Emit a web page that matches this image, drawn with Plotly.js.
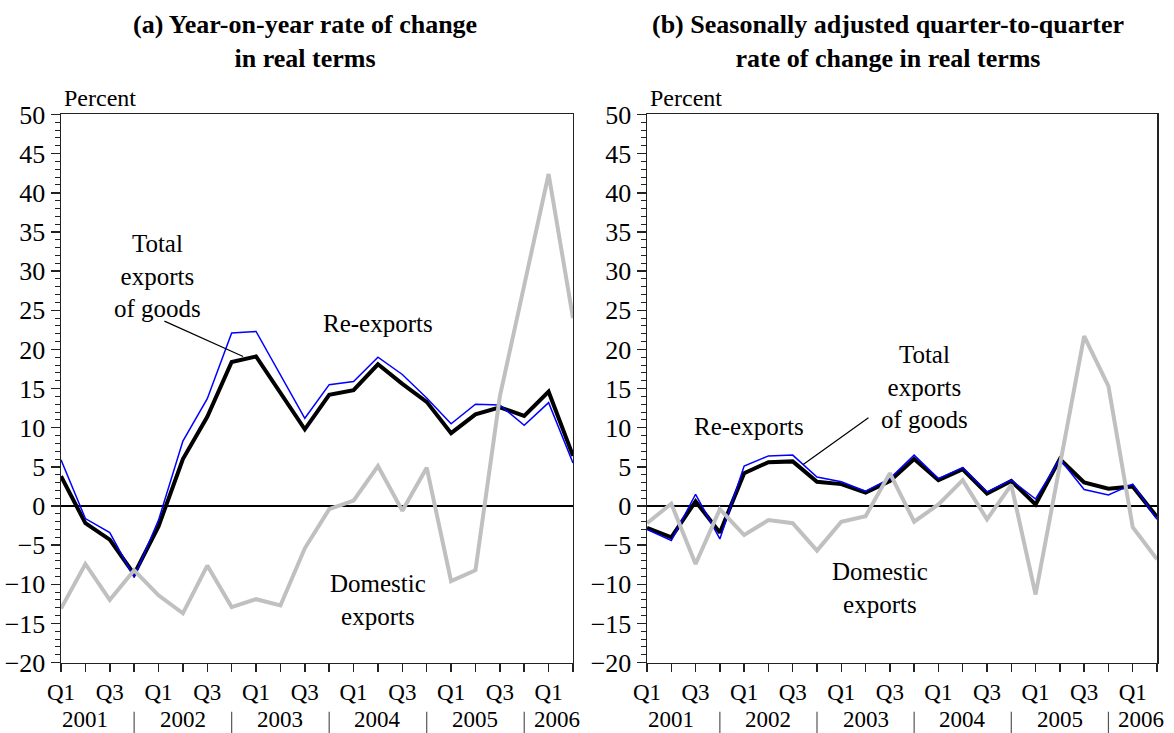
<!DOCTYPE html>
<html>
<head>
<meta charset="utf-8">
<script src="https://cdn.plot.ly/plotly-3.0.1.min.js"></script>
<style>
  body { margin: 0; background: #fff; }
  #chart { width: 1174px; height: 733px; }
</style>
</head>
<body>
<div id="chart"></div>
<script>
// quarters 2001 Q1 .. 2006 Q2
let quarters = ["2001Q1","2001Q2","2001Q3","2001Q4","2002Q1","2002Q2","2002Q3","2002Q4",
                "2003Q1","2003Q2","2003Q3","2003Q4","2004Q1","2004Q2","2004Q3","2004Q4",
                "2005Q1","2005Q2","2005Q3","2005Q4","2006Q1","2006Q2"];
let years = ["2001", "2002", "2003", "2004", "2005", "2006"];

// (a) year-on-year rate of change in real terms
let totalA    = [3.8, -2.2, -4.3, -8.7, -2.6, 6.0, 11.4, 18.4, 19.1, 14.4, 9.8, 14.2, 14.8, 18.1, 15.6, 13.3, 9.3, 11.7, 12.6, 11.5, 14.6, 6.4];
let reExportA = [5.9, -1.6, -3.4, -9.1, -1.8, 8.3, 13.7, 22.1, 22.3, 16.8, 11.2, 15.5, 15.9, 19.0, 16.8, 13.8, 10.5, 13.0, 12.9, 10.3, 13.2, 5.5];
let domesticA = [-13.1, -7.4, -12.0, -8.2, -11.4, -13.7, -7.6, -12.9, -11.9, -12.7, -5.4, -0.4, 0.7, 5.1, -0.6, 4.9, -9.6, -8.2, 14.0, 28.2, 42.4, 24.0];

// (b) seasonally adjusted quarter-to-quarter rate of change in real terms
let totalB    = [-2.8, -4.0, 0.6, -3.4, 4.2, 5.6, 5.7, 3.1, 2.8, 1.7, 3.2, 6.0, 3.3, 4.7, 1.6, 3.2, 0.2, 6.0, 3.0, 2.2, 2.5, -1.4];
let reExportB = [-3.0, -4.4, 1.5, -4.2, 5.1, 6.4, 6.5, 3.7, 3.1, 1.9, 3.5, 6.5, 3.5, 4.9, 1.8, 3.3, 0.9, 6.0, 2.1, 1.4, 2.8, -1.7];
let domesticB = [-2.2, 0.3, -7.4, -0.4, -3.7, -1.8, -2.2, -5.7, -2.0, -1.3, 4.2, -2.0, 0.2, 3.3, -1.7, 2.7, -11.3, 5.5, 21.7, 15.3, -2.7, -6.8];

let serif = "'Liberation Serif', 'Times New Roman', serif";
let xIdx = quarters.map((q, i) => i);

// Q1 / Q3 labels on every other quarter
let tickVals = xIdx.filter(i => quarters[i].endsWith("Q1") || quarters[i].endsWith("Q3"));
let tickText = tickVals.map(i => quarters[i].slice(4));

function makeTraces(total, re, dom, xa, ya) {
    return [
        { x: xIdx, y: total, xaxis: xa, yaxis: ya, type: "scatter", mode: "lines",
          line: { color: "#000000", width: 4 }, name: "Total exports of goods" },
        { x: xIdx, y: re, xaxis: xa, yaxis: ya, type: "scatter", mode: "lines",
          line: { color: "#0000ff", width: 1.5 }, name: "Re-exports" },
        { x: xIdx, y: dom, xaxis: xa, yaxis: ya, type: "scatter", mode: "lines",
          line: { color: "#c0c0c0", width: 4 }, name: "Domestic exports" }
    ];
}

let data = makeTraces(totalA, reExportA, domesticA, "x", "y")
    .concat(makeTraces(totalB, reExportB, domesticB, "x2", "y2"));

function xAxis(domain, anchor) {
    return {
        domain: domain, anchor: anchor,
        range: [0, quarters.length - 1],
        showgrid: false, zeroline: false,
        showline: true, linecolor: "#222", linewidth: 1.5, mirror: true,
        tickmode: "array", tickvals: tickVals, ticktext: tickText,
        ticks: "outside", ticklen: 8, tickwidth: 1.5, tickcolor: "#222",
        minor: { tickmode: "linear", tick0: 0, dtick: 1, ticks: "outside", ticklen: 8, tickwidth: 1.5, tickcolor: "#222" },
        tickfont: { family: serif, size: 23, color: "#000" },
        fixedrange: true
    };
}

function yAxis(domain, anchor) {
    return {
        domain: domain, anchor: anchor,
        range: [-20, 50],
        showgrid: false,
        zeroline: true, zerolinecolor: "#000", zerolinewidth: 1.2,
        showline: true, linecolor: "#222", linewidth: 1.5, mirror: true,
        tickmode: "linear", tick0: 0, dtick: 5,
        ticks: "outside", ticklen: 9, tickwidth: 1.5, tickcolor: "#222",
        minor: { dtick: 1, ticks: "outside", ticklen: 5, tickwidth: 1, tickcolor: "#222" },
        tickfont: { family: serif, size: 26, color: "#000" },
        fixedrange: true
    };
}

let yDom = [0.096, 0.8438];

// year labels under the quarter labels, with separators after each Q4
let annotations = [];
let shapes = [];
["x", "x2"].forEach(function(xa) {
    years.forEach(function(yr) {
        let first = quarters.indexOf(yr + "Q1");
        let last = quarters.length - 1 - quarters.slice().reverse().findIndex(q => q.startsWith(yr));
        let full = (last - first) === 3;
        annotations.push({
            xref: xa, yref: "paper", x: full ? first + 1 : last - 0.65, y: 0.0,
            text: yr, showarrow: false, xanchor: "center", yanchor: "bottom", borderpad: 0,
            font: { family: serif, size: 23, color: "#000" }
        });
        if (full && last < quarters.length - 1) {
            shapes.push({ type: "line", xref: xa, yref: "paper", x0: last, x1: last, y0: 0.0, y1: 0.029,
                          line: { color: "#555", width: 1.2 } });
        }
    });
});

function label(text, xa, ya, x, y) {
    return { xref: xa, yref: ya, x: x, y: y, text: text, showarrow: false,
             xanchor: "center", yanchor: "middle",
             font: { family: serif, size: 25, color: "#000" } };
}

function pointer(xa, ya, x0, y0, x1, y1) {
    return { xref: xa, yref: ya, axref: xa, ayref: ya, x: x1, y: y1, ax: x0, ay: y0,
             text: "", showarrow: true, arrowhead: 0, arrowwidth: 1.2, arrowcolor: "#000" };
}

annotations.push(
    // panel titles
    { xref: "paper", yref: "paper", x: 0.2598, y: 0.943, xanchor: "center", yanchor: "middle",
      showarrow: false, align: "center",
      text: "<b>(a) Year-on-year rate of change<br>in real terms</b>",
      font: { family: serif, size: 26, color: "#000" } },
    { xref: "paper", yref: "paper", x: 0.7564, y: 0.943, xanchor: "center", yanchor: "middle",
      showarrow: false, align: "center",
      text: "<b>(b) Seasonally adjusted quarter-to-quarter<br>rate of change in real terms</b>",
      font: { family: serif, size: 26, color: "#000" } },
    // unit labels
    { xref: "paper", yref: "paper", x: 0.0528, y: 0.8663, xanchor: "left", yanchor: "middle",
      showarrow: false, text: "Percent", font: { family: serif, size: 24, color: "#000" } },
    { xref: "paper", yref: "paper", x: 0.5520, y: 0.8663, xanchor: "left", yanchor: "middle",
      showarrow: false, text: "Percent", font: { family: serif, size: 24, color: "#000" } },
    // series labels, panel (a)
    label("Total<br>exports<br>of goods", "x", "y", 3.94, 29.4),
    pointer("x", "y", 4.18, 23.7, 7.47, 19.1),
    label("Re-exports", "x", "y", 13, 23.3),
    label("Domestic<br>exports", "x", "y", 13, -12.0),
    // series labels, panel (b)
    label("Re-exports", "x2", "y2", 4.2, 10.2),
    label("Total<br>exports<br>of goods", "x2", "y2", 11.44, 15.2),
    pointer("x2", "y2", 9.18, 11.4, 6.43, 5.3),
    label("Domestic<br>exports", "x2", "y2", 9.6, -10.5)
);

let layout = {
    width: 1174, height: 733,
    margin: { l: 0, r: 0, t: 0, b: 0 },
    paper_bgcolor: "#fff", plot_bgcolor: "#fff",
    showlegend: false,
    xaxis: xAxis([0.05196, 0.48807], "y"),
    yaxis: yAxis(yDom, "x"),
    xaxis2: xAxis([0.55111, 0.98552], "y2"),
    yaxis2: yAxis(yDom, "x2"),
    annotations: annotations,
    shapes: shapes
};

Plotly.newPlot("chart", data, layout, { displayModeBar: false, staticPlot: true });
</script>
</body>
</html>
